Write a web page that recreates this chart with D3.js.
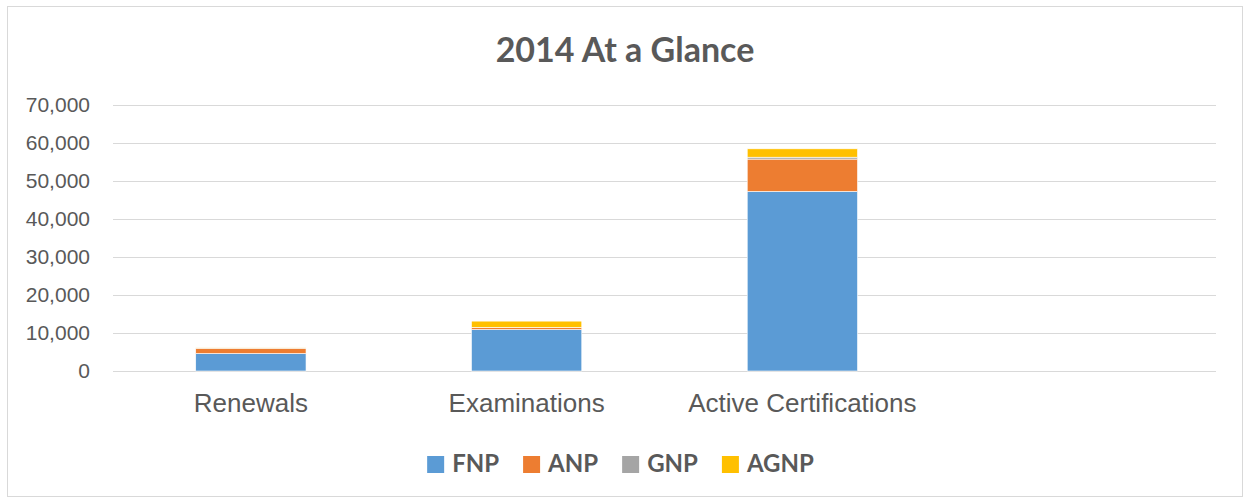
<!DOCTYPE html>
<html>
<head>
<meta charset="utf-8">
<script src="https://cdn.jsdelivr.net/npm/d3@7.9.0/dist/d3.min.js"></script>
<style>
  html, body { margin: 0; padding: 0; background: #fff; }
  svg { display: block; }
</style>
</head>
<body>
<svg id="chart" width="1244" height="498"></svg>
<script>
// Chart data
const categories = ['Renewals', 'Examinations', 'Active Certifications', ''];
const seriesNames = ['FNP', 'ANP', 'GNP', 'AGNP'];
const fnp  = [4600, 10900, 47200, 0];
const anp  = [1400, 500, 8500, 0];
const gnp  = [30, 60, 500, 0];
const agnp = [50, 1650, 2200, 0];
const yTicks = [0, 10000, 20000, 30000, 40000, 50000, 60000, 70000];

const colors = d3.scaleOrdinal()
  .domain(seriesNames)
  .range(['#5b9bd5', '#ed7d31', '#a5a5a5', '#ffc000']);

// Build table rows for the stack layout
const rows = categories.map((c, i) => ({
  category: c, FNP: fnp[i], ANP: anp[i], GNP: gnp[i], AGNP: agnp[i]
}));

const svg = d3.select('#chart');
const textColor = '#595959';

// Outer chart border
svg.append('rect')
  .attr('x', 7.5).attr('y', 6.5)
  .attr('width', 1235).attr('height', 490)
  .attr('fill', '#fff')
  .attr('stroke', '#d9d9d9')
  .attr('stroke-width', 1);

const plot = { left: 113, right: 1216, top: 104.7, bottom: 371 };

let x = d3.scaleBand()
  .domain(categories)
  .range([plot.left, plot.right])
  .paddingInner(0.6)
  .paddingOuter(0.3);

let y = d3.scaleLinear()
  .domain([0, 70000])
  .range([plot.bottom, plot.top]);

// Gridlines
svg.append('g')
  .selectAll('line')
  .data(yTicks)
  .enter()
  .append('line')
  .attr('x1', plot.left).attr('x2', plot.right)
  .attr('y1', (d) => Math.round(y(d)) + 0.5)
  .attr('y2', (d) => Math.round(y(d)) + 0.5)
  .attr('stroke', '#d9d9d9')
  .attr('stroke-width', 1);

// Y axis labels
let yAxis = d3.axisLeft(y)
  .tickValues(yTicks)
  .tickFormat(d3.format(','))
  .tickSize(0)
  .tickPadding(0);

let yG = svg.append('g')
  .attr('transform', 'translate(90,0)')
  .call(yAxis);
yG.select('.domain').remove();
yG.selectAll('text')
  .attr('fill', textColor)
  .style('font-family', '"Liberation Sans", Arial, sans-serif')
  .style('font-size', '21px');

// Stacked bars
let stack = d3.stack().keys(seriesNames);
let layers = stack(rows);

svg.append('g')
  .selectAll('g')
  .data(layers)
  .enter()
  .append('g')
  .attr('fill', (d) => colors(d.key))
  .selectAll('rect')
  .data((d) => d.filter((p) => p[1] - p[0] > 0))
  .enter()
  .append('rect')
  .attr('x', (d) => x(d.data.category))
  .attr('width', x.bandwidth())
  .attr('y', (d) => y(d[1]))
  .attr('height', (d) => y(d[0]) - y(d[1]))
  .attr('stroke', '#fff')
  .attr('stroke-width', 0.6);

// Category labels
let xAxis = d3.axisBottom(x).tickSize(0).tickPadding(0);
let xG = svg.append('g')
  .attr('transform', 'translate(0,412)')
  .call(xAxis);
xG.select('.domain').remove();
xG.selectAll('text')
  .attr('fill', textColor)
  .attr('dy', 0)
  .style('font-family', '"Liberation Sans", Arial, sans-serif')
  .style('font-size', '26px');

// Title
svg.append('text')
  .attr('x', 625)
  .attr('y', 62)
  .attr('text-anchor', 'middle')
  .attr('fill', textColor)
  .style('font-family', 'Lato, "Open Sans", sans-serif')
  .style('font-weight', 700)
  .style('font-size', '34px')
  .text('2014 At a Glance');

// Legend, centred under the plot
let legend = svg.append('g');
let cursor = 0;
seriesNames.forEach((name) => {
  let item = legend.append('g').attr('transform', `translate(${cursor},0)`);
  item.append('rect')
    .attr('x', 0).attr('y', -16)
    .attr('width', 17).attr('height', 17)
    .attr('fill', colors(name));
  let t = item.append('text')
    .attr('x', 25).attr('y', 0)
    .attr('fill', textColor)
    .style('font-family', 'Lato, "Open Sans", sans-serif')
    .style('font-weight', 700)
    .style('font-size', '24px')
    .text(name);
  cursor += 25 + t.node().getComputedTextLength() + 24;
});
let legendWidth = cursor - 24;
legend.attr('transform', `translate(${620.5 - legendWidth / 2},472)`);
</script>
</body>
</html>
